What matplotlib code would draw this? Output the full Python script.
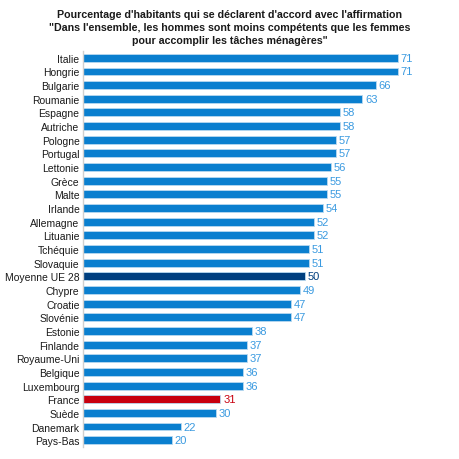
import numpy as np
import matplotlib
matplotlib.use("Agg")
import matplotlib.pyplot as plt

plt.rcParams["font.family"] = ["Liberation Sans", "DejaVu Sans"]

countries = ["Italie", "Hongrie", "Bulgarie", "Roumanie", "Espagne", "Autriche",
             "Pologne", "Portugal", "Lettonie", "Grèce", "Malte", "Irlande",
             "Allemagne", "Lituanie", "Tchéquie", "Slovaquie", "Moyenne UE 28",
             "Chypre", "Croatie", "Slovénie", "Estonie", "Finlande", "Royaume-Uni",
             "Belgique", "Luxembourg", "France", "Suède", "Danemark", "Pays-Bas"]
values = [71, 71, 66, 63, 58, 58, 57, 57, 56, 55, 55, 54, 52, 52, 51, 51, 50,
          49, 47, 47, 38, 37, 37, 36, 36, 31, 30, 22, 20]

BLUE, NAVY, RED = "#0a7fcf", "#003f7f", "#c8000f"
LABEL_BLUE = "#3a9ae0"

colors = [NAVY if c == "Moyenne UE 28" else RED if c == "France" else BLUE
          for c in countries]
lab_colors = [NAVY if c == "Moyenne UE 28" else RED if c == "France" else LABEL_BLUE
              for c in countries]

fig = plt.figure(figsize=(4.6, 4.6), dpi=100)
ax = fig.add_axes([83 / 460, 1 - 448 / 460, (460 - 83) / 460, (448 - 52) / 460])

y = np.arange(len(countries))
ax.barh(y, values, height=0.58, color=colors, edgecolor="#b8d9f0", linewidth=0.6)
for yi, v, c in zip(y, values, lab_colors):
    ax.text(v + 0.6, yi, f"{v}", va="center", ha="left", fontsize=8, color=c)

ax.set_yticks(y)
ax.set_yticklabels(countries, fontsize=7.5, color="#1a1a1a")
ax.tick_params(axis="y", length=0, pad=2.5)
ax.set_xticks([])
ax.set_xlim(0, 85)
ax.set_ylim(len(countries) - 0.5, -0.5)
for s in ["top", "right", "bottom"]:
    ax.spines[s].set_visible(False)
ax.spines["left"].set_color("#d0d0d0")
ax.spines["left"].set_linewidth(1.0)

fig.text(0.5, 1 - 28 / 460,
         "Pourcentage d'habitants qui se déclarent d'accord avec l'affirmation\n"
         "\"Dans l'ensemble, les hommes sont moins compétents que les femmes\n"
         "pour accomplir les tâches ménagères\"",
         ha="center", va="center", fontsize=7.7, fontweight="bold",
         color="#1a1a1a", linespacing=1.4)

fig.savefig("out.png", dpi=100)
